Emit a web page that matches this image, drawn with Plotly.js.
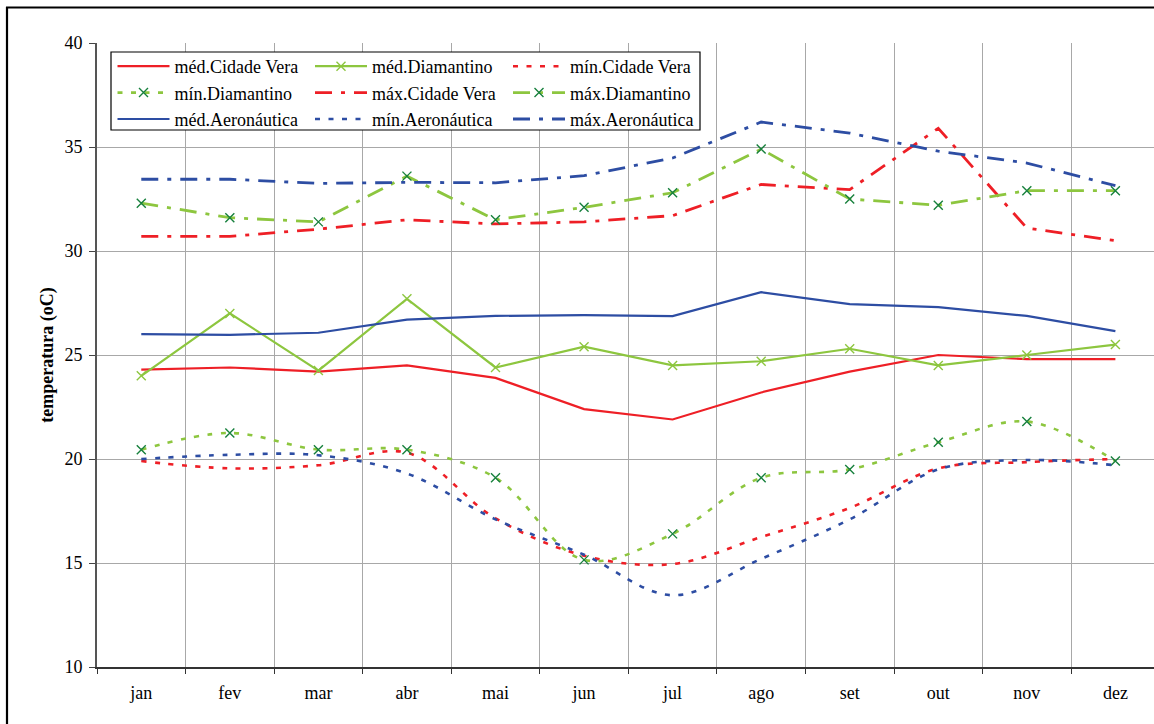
<!DOCTYPE html>
<html>
<head>
<meta charset="utf-8">
<script src="https://cdn.plot.ly/plotly-3.0.1.min.js"></script>
<style>
  html, body { margin: 0; padding: 0; background: #fff; overflow: hidden; }
  #chart { width: 1154px; height: 724px; }
</style>
</head>
<body>
<div id="chart"></div>
<script>
// ---- data ----
const months = ['jan','fev','mar','abr','mai','jun','jul','ago','set','out','nov','dez'];

const medCidadeVera  = [24.3, 24.4, 24.2, 24.5, 23.9, 22.4, 21.9, 23.2, 24.2, 25.0, 24.8, 24.8];
const medDiamantino  = [24.0, 27.0, 24.25, 27.7, 24.4, 25.4, 24.5, 24.7, 25.3, 24.5, 25.0, 25.5];
const minCidadeVera  = [19.9, 19.55, 19.7, 20.3, 17.15, 15.35, 14.95, 16.25, 17.65, 19.55, 19.85, 20.0];
const minDiamantino  = [20.45, 21.25, 20.45, 20.45, 19.1, 15.15, 16.4, 19.1, 19.5, 20.8, 21.8, 19.9];
const maxCidadeVera  = [30.7, 30.7, 31.05, 31.5, 31.3, 31.4, 31.7, 33.2, 32.95, 35.9, 31.1, 30.5];
const maxDiamantino  = [32.3, 31.6, 31.4, 33.6, 31.5, 32.1, 32.8, 34.9, 32.5, 32.2, 32.9, 32.9];
const medAeronautica = [26.0, 25.97, 26.07, 26.7, 26.88, 26.92, 26.87, 28.02, 27.45, 27.3, 26.88, 26.15];
const minAeronautica = [20.0, 20.2, 20.18, 19.3, 17.1, 15.4, 13.45, 15.2, 17.1, 19.5, 19.95, 19.7];
const maxAeronautica = [33.45, 33.45, 33.25, 33.3, 33.28, 33.62, 34.47, 36.2, 35.67, 34.8, 34.23, 33.14];

const yTicks = [10, 15, 20, 25, 30, 35, 40];

// ---- styles ----
const RED = '#EE1F26', GREEN = '#8DC63F', BLUE = '#2D4DA3', DKGREEN = '#17803D';
const DOT = '5px,8.5px';
const DASHDOT = '17px,9px,4px,9px';
const FONT = '"Liberation Serif", "Times New Roman", Times, "Nimbus Roman", serif';

function tr(name, y, color, dash, width, legend, opts) {
  const t = {
    type: 'scatter', mode: 'lines', name: name, x: months, y: y,
    line: { color: color, width: width, dash: dash },
    legend: legend, hoverinfo: 'skip'
  };
  return Object.assign(t, opts || {});
}
function xm(col) {
  return { mode: 'lines+markers',
    marker: { symbol: 'x-thin-open', size: 9, color: col, line: { color: col, width: 1.4 } } };
}

const traces = [
  tr('méd.Cidade Vera', medCidadeVera, RED, 'solid', 2.2, 'legend'),
  tr('méd.Diamantino', medDiamantino, GREEN, 'solid', 2.2, 'legend2', xm(GREEN)),
  tr('mín.Cidade Vera', minCidadeVera, RED, DOT, 2.6, 'legend3'),
  tr('mín.Diamantino', minDiamantino, GREEN, DOT, 2.6, 'legend', xm(DKGREEN)),
  tr('máx.Cidade Vera', maxCidadeVera, RED, DASHDOT, 2.8, 'legend2'),
  tr('máx.Diamantino', maxDiamantino, GREEN, DASHDOT, 2.8, 'legend3', xm(DKGREEN)),
  tr('méd.Aeronáutica', medAeronautica, BLUE, 'solid', 2.2, 'legend'),
  tr('mín.Aeronáutica', minAeronautica, BLUE, DOT, 2.6, 'legend2'),
  tr('máx.Aeronáutica', maxAeronautica, BLUE, DASHDOT, 2.8, 'legend3')
];
// smoothed minimum curves
[2, 3, 7].forEach(i => { traces[i].line.shape = 'spline'; traces[i].line.smoothing = 1; });

// pixel helpers for decoration placement (plot area: x 97..1154, y 43..667)
const L = 97, T = 43, W = 1057, H = 624;
const px = v => (v - L) / W;
const py = v => (T + H - v) / H;

function legendAt(xpix) {
  return {
    x: px(xpix), y: py(48), xanchor: 'left', yanchor: 'top',
    bgcolor: 'rgba(0,0,0,0)', borderwidth: 0, itemwidth: 52,
    font: { family: FONT, size: 18, color: '#000' },
    traceorder: 'normal', itemclick: false, itemdoubleclick: false
  };
}

const layout = {
  width: 1154, height: 724,
  margin: { l: L, r: 1154 - L - W, t: T, b: 724 - T - H, pad: 0 },
  paper_bgcolor: '#fff', plot_bgcolor: '#fff',
  showlegend: true,
  font: { family: FONT, size: 18, color: '#000' },
  xaxis: {
    type: 'category', categoryorder: 'array', categoryarray: months,
    range: [-0.5, 11.436], tickson: 'boundaries',
    ticks: 'outside', ticklen: 5, tickwidth: 1, tickcolor: '#333',
    showgrid: true, gridcolor: '#A8A8A8', gridwidth: 1,
    showline: true, linecolor: '#333', linewidth: 1.5,
    tickfont: { family: FONT, size: 18, color: '#000' },
    ticklabelstandoff: 9, zeroline: false, fixedrange: true
  },
  yaxis: {
    range: [10, 40], tickvals: yTicks, ticktext: yTicks.map(String),
    ticks: 'outside', ticklen: 6, tickwidth: 1, tickcolor: '#444',
    showgrid: true, gridcolor: '#A8A8A8', gridwidth: 1,
    showline: true, linecolor: '#555', linewidth: 2,
    tickfont: { family: FONT, size: 18, color: '#000' },
    ticklabelstandoff: 3, zeroline: false, fixedrange: true,
    title: { text: '<b>temperatura (oC)</b>', font: { family: FONT, size: 18, color: '#000' }, standoff: 6 }
  },
  legend: legendAt(112.5),
  legend2: legendAt(310),
  legend3: legendAt(508),
  shapes: [
    // legend frame
    { type: 'rect', xref: 'paper', yref: 'paper', x0: px(111), x1: px(700), y0: py(130), y1: py(52),
      line: { color: '#000', width: 1.2 }, fillcolor: '#fff', layer: 'above' },
    // outer chart frame (left and top edges visible in the crop)
    { type: 'line', xref: 'paper', yref: 'paper', x0: px(7), x1: px(7), y0: py(7), y1: py(740),
      line: { color: '#000', width: 2.2 }, layer: 'above' },
    { type: 'line', xref: 'paper', yref: 'paper', x0: px(6), x1: px(1170), y0: py(7.5), y1: py(7.5),
      line: { color: '#000', width: 2.2 }, layer: 'above' }
  ]
};

Plotly.newPlot('chart', traces, layout, { staticPlot: true, displayModeBar: false });
</script>
</body>
</html>
